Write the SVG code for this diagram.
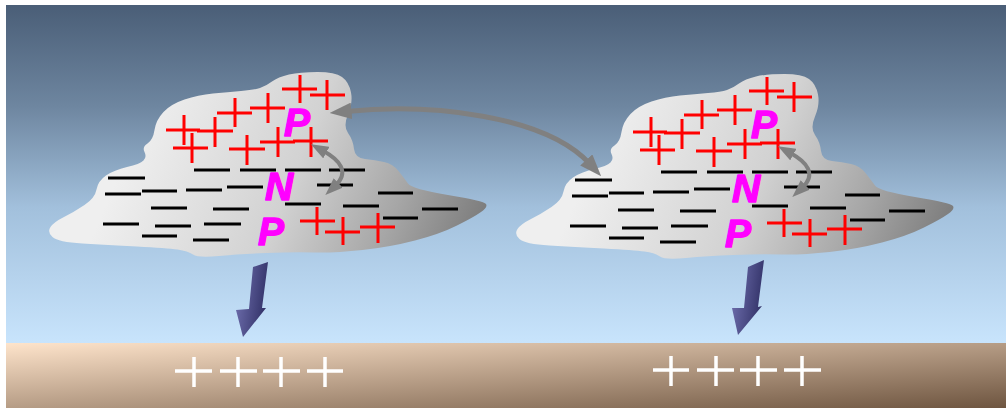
<svg xmlns="http://www.w3.org/2000/svg" xmlns:xlink="http://www.w3.org/1999/xlink" width="1007" height="408" viewBox="0 0 1007 408">
  <defs>
    <linearGradient id="sky" x1="0" y1="0" x2="0" y2="1">
      <stop offset="0" stop-color="#4a5e77"/>
      <stop offset="0.3" stop-color="#6e86a0"/>
      <stop offset="0.6" stop-color="#a2c0dc"/>
      <stop offset="1" stop-color="#c8e4fc"/>
    </linearGradient>
    <linearGradient id="ground" x1="0" y1="0" x2="1" y2="1">
      <stop offset="0" stop-color="#fee4cb"/>
      <stop offset="1" stop-color="#6e5540"/>
    </linearGradient>
    <linearGradient id="cloudFill" gradientUnits="userSpaceOnUse" x1="150" y1="100" x2="480" y2="240">
      <stop offset="0" stop-color="#efefef"/>
      <stop offset="0.45" stop-color="#d2d2d2"/>
      <stop offset="0.75" stop-color="#a6a6a6"/>
      <stop offset="1" stop-color="#7a7a7a"/>
    </linearGradient>
    <linearGradient id="bolt" x1="0" y1="0" x2="1" y2="0.3">
      <stop offset="0" stop-color="#7474b4"/>
      <stop offset="1" stop-color="#34346a"/>
    </linearGradient>
    <marker id="ah" viewBox="0 0 4 3" refX="1" refY="1.5" markerWidth="4.4" markerHeight="3.3" orient="auto-start-reverse">
      <path d="M0,0 L4,1.5 L0,3 z" fill="#808080"/>
    </marker>
    <!-- cloud outline -->
    <path id="cloudShape" d="M260,88 Q266,86 272,81.5 Q278,77 289,74.5 Q300,72 317.5,72 Q335,72 342,77 Q349,82 351,92.5 Q353,103 348,114.5 Q343,126 348,133 Q353,140 354,149 Q355,158 365,159 Q375,160 384,162 Q393,164 398.5,171 Q404,178 408,183.5 Q412,189 448,195 Q484,201 486,204 Q488,207 481,212 Q474,217 457,225.5 Q440,234 415,240.5 Q390,247 362.5,250 Q335,253 314,252.5 Q293,252 266.5,253 Q240,254 219,256 Q198,258 193,254.5 Q188,251 177.5,249.5 Q167,248 137,246.5 Q107,245 82.5,243.5 Q58,242 52.5,237 Q47,232 50.5,227 Q54,222 64,217 Q74,212 84.5,205 Q95,198 96.5,189.5 Q98,181 106,175.5 Q114,170 127,167 Q140,164 143.5,160.5 Q147,157 144.5,152 Q142,147 147.5,143.5 Q153,140 154.5,130 Q156,120 163.5,112 Q171,104 184.5,99.5 Q198,95 213,93.5 Q228,92 241,91 Q254,90 260,88 Z"/>
    <!-- charge marks inside a cloud -->
    <g id="charges">
      <g class="pos">
        <path d="M282,89 H317 M300,75 V103"/>
        <path d="M310,95 H345 M327,80 V110"/>
        <path d="M250,108 H285 M268,93 V123"/>
        <path d="M217,113 H252 M235,98 V127"/>
        <path d="M197,131 H233 M215,117 V147"/>
        <path d="M166,130 H200 M184,115 V145"/>
        <path d="M173,148 H208 M192,133 V163"/>
        <path d="M229,149 H265 M247,135 V165"/>
        <path d="M260,142 H295 M278,127 V157"/>
        <path d="M293,141 H328 M311,127 V157"/>
        <path d="M300,221 H335 M317,207 V235"/>
        <path d="M325,232 H360 M343,217 V245"/>
        <path d="M360,227 H395 M378,213 V243"/>
      </g>
      <g class="neg">
        <path d="M108,178 H145"/>
        <path d="M194,170 H230"/>
        <path d="M240,170 H276"/>
        <path d="M285,170 H321"/>
        <path d="M329,170 H365"/>
        <path d="M105,194 H141"/>
        <path d="M142,191 H177"/>
        <path d="M186,190 H222"/>
        <path d="M227,187 H263"/>
        <path d="M317,185 H353"/>
        <path d="M378,193 H413"/>
        <path d="M151,208 H187"/>
        <path d="M213,209 H249"/>
        <path d="M285,204 H321"/>
        <path d="M343,206 H379"/>
        <path d="M422,209 H458"/>
        <path d="M103,224 H139"/>
        <path d="M155,226 H191"/>
        <path d="M204,224 H241"/>
        <path d="M383,218 H418"/>
        <path d="M142,236 H177"/>
        <path d="M193,240 H229"/>
      </g>
    </g>
  </defs>
  <style>
    .pos path { stroke: #ff0000; stroke-width: 3; fill: none; }
    .neg path { stroke: #000000; stroke-width: 3; fill: none; }
    .lbl { font-family: "Liberation Sans", Arial, sans-serif; font-weight: bold; font-style: italic; font-size: 39px; fill: #ff00ff; stroke: #ff00ff; stroke-width: 1.4; stroke-linejoin: round; }
    .gplus { stroke: #ffffff; stroke-width: 3.5; fill: none; }
    .link { stroke: #808080; fill: none; marker-start: url(#ah); marker-end: url(#ah); }
  </style>

  <!-- background: sky and ground -->
  <rect x="0" y="0" width="1007" height="408" fill="#ffffff"/>
  <rect x="6" y="5" width="1000" height="338" fill="url(#sky)"/>
  <rect x="6" y="343" width="1000" height="65" fill="url(#ground)"/>

  <!-- left storm cloud -->
  <g id="cloud-left">
    <use xlink:href="#cloudShape" fill="url(#cloudFill)"/>
    <use xlink:href="#charges"/>
    <text class="lbl" x="284" y="136">P</text>
    <text class="lbl" x="265" y="200">N</text>
    <text class="lbl" x="258" y="245">P</text>
  </g>

  <!-- right storm cloud -->
  <g id="cloud-right" transform="translate(467,2)">
    <use xlink:href="#cloudShape" fill="url(#cloudFill)"/>
    <use xlink:href="#charges"/>
    <text class="lbl" x="284" y="136">P</text>
    <text class="lbl" x="265" y="200">N</text>
    <text class="lbl" x="258" y="245">P</text>
  </g>

  <!-- ground charges -->
  <g id="ground-left" class="gplus">
    <path d="M175,371 H212 M194,357 V387"/>
    <path d="M220,371 H257 M238,357 V387"/>
    <path d="M263,371 H300 M281,357 V387"/>
    <path d="M307,371 H343 M325,357 V387"/>
  </g>
  <g id="ground-right" class="gplus">
    <path d="M653,370 H689 M671,356 V386"/>
    <path d="M697,370 H734 M716,356 V386"/>
    <path d="M740,370 H777 M758,356 V386"/>
    <path d="M784,370 H821 M802,356 V386"/>
  </g>

  <!-- discharges and charge transfer -->
  <g id="connectors">
    <polygon points="253,267 268,262 262,308 266,308 243,337 236,310 249,309" fill="url(#bolt)"/>
    <polygon points="748,267 764,260 758,307 762,306 738,335 732,308 744,308" fill="url(#bolt)"/>
    <path class="link" stroke-width="5" d="M346,111.4 C430,103 545,115 590,164"/>
    <path class="link" stroke-width="4" d="M322.5,150.5 C340,160 350,172 335,186"/>
    <path class="link" stroke-width="4" d="M789.5,152.5 C807,162 817,174 802,188"/>
  </g>
</svg>
